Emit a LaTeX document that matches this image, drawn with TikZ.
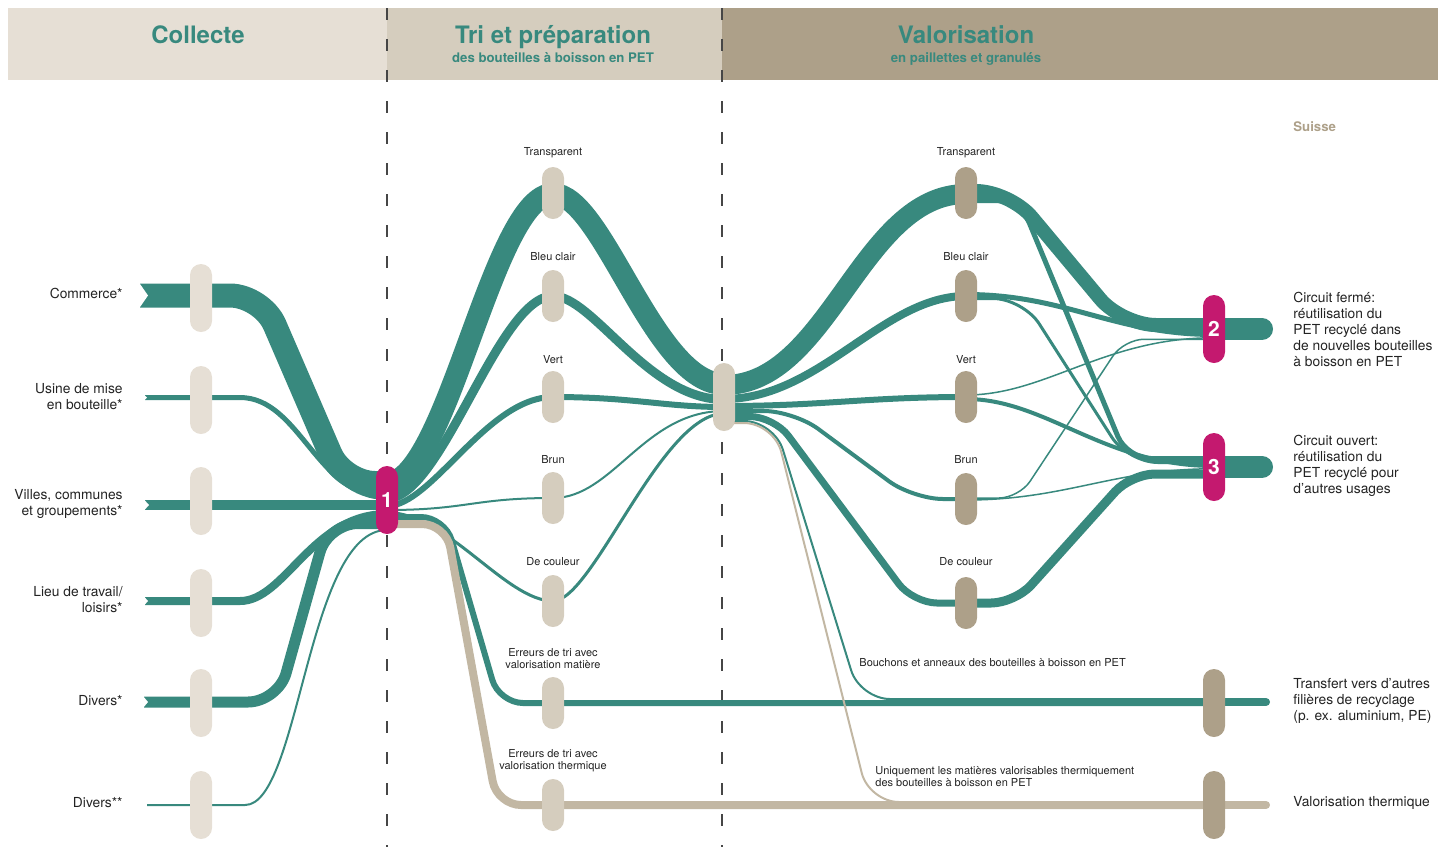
\documentclass[tikz,border=0pt]{standalone}
\usepackage{fontspec}
\setmainfont{TeX Gyre Heros}
\usetikzlibrary{calc, backgrounds}

\definecolor{pteal}{RGB}{56,137,126}
\definecolor{pmag}{RGB}{196,25,111}
\definecolor{hdA}{RGB}{230,223,213}
\definecolor{hdB}{RGB}{213,205,190}
\definecolor{hdC}{RGB}{173,160,137}
\definecolor{ptan}{RGB}{194,183,163}
\definecolor{ink}{RGB}{35,35,35}
\definecolor{dashgray}{RGB}{70,70,70}

\tikzset{
  flow/.style={draw=pteal, line width=#1*0.5pt},
  pill/.style={rectangle, rounded corners=5.5pt, minimum width=11pt, minimum height=26pt, inner sep=0pt},
  tall/.style={minimum height=34pt},
  num/.style={text=white, font=\bfseries\fontsize{10.5}{12}\selectfont},
  lab/.style={text=ink, font=\fontsize{6.9}{8}\selectfont, inner sep=0pt},
  tag/.style={text=ink, font=\fontsize{5.5}{6}\selectfont, inner sep=0pt, align=center},
  ttl/.style={text=pteal, font=\bfseries\fontsize{12}{14}\selectfont, inner sep=0pt, anchor=base},
  sub/.style={text=pteal, font=\bfseries\fontsize{6.6}{8}\selectfont, inner sep=0pt, anchor=base},
  dashline/.style={draw=dashgray, line width=0.6pt, dash pattern=on 6pt off 9.5pt},
}

\begin{document}
\begin{tikzpicture}[x=0.5pt, y=-0.5pt]
  \useasboundingbox (0,0) rectangle (1438,847);

  % pills
  \foreach \n/\y in {com/298, usi/400, vil/501, lie/603, div/703, dvv/805}
    \node[pill, tall, fill=hdA] (\n) at (201,\y) {};
  \foreach \n/\y in {tT/193, tB/296, tV/397, tN/498, tC/601, tM/703, tH/805}
    \node[pill, fill=hdB] (\n) at (553,\y) {};
  \foreach \n/\y in {vT/193, vB/296, vV/397, vN/499, vC/603}
    \node[pill, fill=hdC] (\n) at (966,\y) {};
  \node[pill, tall, fill=hdB] (hub) at (724,397) {};
  \node[pill, tall, fill=hdC] (tra) at (1214,703) {};
  \node[pill, tall, fill=hdC] (the) at (1214,805) {};
  \node[pill, tall, fill=pmag, num] (one) at (387,500) {1};
  \node[pill, tall, fill=pmag, num] (two) at (1214,329) {2};
  \node[pill, tall, fill=pmag, num] (three) at (1214,467) {3};

  \begin{pgfonlayer}{background}
    \fill[hdA] (8,8) rectangle (387,80);
    \fill[hdB] (387,8) rectangle (722,80);
    \fill[hdC] (722,8) rectangle (1438,80);
    \draw[dashline] (387,8) -- (387,847);
    \draw[dashline] (722,8) -- (722,847);

    % collecte
    \draw[flow=24, rounded corners=16pt] (com.center) ++(-61,-2.5) -- ++(122,0) -- ++(81,187.5) -- ($(one)+(0,-17)$);
    \draw[flow=5] (usi.center) ++(-56,-2.5) -- ++(95,0) .. controls +(60,0) and +(-70,0) .. ($(one)+(0,-2.5)$);
    \draw[flow=10] (vil.center) ++(-56,4) -- ($(one)+(0,5)$);
    \draw[flow=8] (lie.center) ++(-56,-2) -- ++(95,0) .. controls +(45,0) and +(-75,0) .. ($(one)+(0,14)$);
    \draw[flow=11, rounded corners=15pt] (div.center) ++(-57,-1) -- ++(134,0) -- ++(50,-178.5) -- ($(one)+(0,23.5)$);
    \draw[flow=2] (dvv.center) ++(-54,0) -- ++(98,0) .. controls +(55,0) and +(-80,0) .. ($(one)+(0,30)$);
    \foreach \x/\y/\h/\d in {140/295.5/13/8, 145/397.5/3/2, 145/505/5.5/4, 145/601/4.5/3, 144/702/6/4}
      \fill[white] (\x-1,\y-\h) -- (\x+\d,\y) -- (\x-1,\y+\h) -- cycle;

    % tri
    \draw[flow=22] ($(one)+(0,-17)$) .. controls +(60,0) and +(-60,0) .. ($(tT)+(0,1)$)
      .. controls +(50,0) and +(-70,0) .. ($(hub)+(0,-13)$);
    \draw[flow=9] ($(one)+(0,-1.5)$) .. controls +(55,0) and +(-55,0) .. (tB.center)
      .. controls +(40,0) and +(-76,0) .. ($(hub)+(0,2.5)$);
    \draw[flow=6] ($(one)+(0,6)$) .. controls +(45,0) and +(-66,0) .. (tV.center)
      .. controls +(80,0) and +(-60,0) .. ($(hub)+(0,10)$);
    \draw[flow=2] ($(one)+(0,10)$) .. controls +(80,0) and +(-80,0) .. (tN.center)
      .. controls +(60,0) and +(-80,0) .. ($(hub)+(0,14)$);
    \draw[flow=3] ($(one)+(0,12.5)$) .. controls +(60,0) and +(-47,0) .. (tC.center)
      .. controls +(40,0) and +(-63,0) .. ($(hub)+(0,16.5)$);
    \draw[flow=6, rounded corners=12pt] ($(one)+(0,17)$) -- ++(58,0) -- ++(54,186) -- (tra.center);
    \draw[flow=8, draw=ptan, rounded corners=12pt] ($(one)+(0,24)$) -- ++(59,0) -- ++(51,281) -- (the.center);

    % valorisation
    \draw[flow=20] ($(hub)+(0,-12)$) .. controls +(105,0) and +(-105,0) .. ($(vT)+(0,1)$);
    \draw[flow=8] ($(hub)+(0,2)$) .. controls +(96,0) and +(-83,0) .. (vB.center);
    \draw[flow=6] ($(hub)+(0,9)$) .. controls +(100,0) and +(-100,0) .. (vV.center);
    \draw[flow=4, rounded corners=15pt] ($(hub)+(0,14)$) -- ++(70,0) -- ++(119,88) -- (vN.center);
    \draw[flow=7, rounded corners=12pt] ($(hub)+(0,19.5)$) -- ++(50,0) -- ++(139,186.5) -- (vC.center);
    \draw[flow=2, rounded corners=15pt] ($(hub)+(0,24)$) -- ++(50,0) -- ++(86,278) -- ($(tra)+(0,-4)$);
    \draw[flow=2, draw=ptan, rounded corners=15pt] ($(hub)+(0,26)$) -- ++(50,0) -- ++(95,379) -- ($(the)+(0,-3)$);

    % circuits
    \draw[flow=14, rounded corners=17pt] ($(vT)+(0,-2)$) -- ++(44,0) -- ++(112,134) -- ($(two)+(0,-4)$);
    \draw[flow=5, rounded corners=12pt] ($(vT)+(0,7.5)$) -- ++(54,0) -- ++(107,258) -- ($(three)+(0,-8.5)$);
    \draw[flow=5] ($(vB)+(0,-1.5)$) .. controls +(100,0) and +(-100,0) .. ($(two)+(0,5.5)$);
    \draw[flow=3, rounded corners=15pt] ($(vB)+(0,2.5)$) -- ++(57,0) -- ++(105,164) -- ($(three)+(0,-4.5)$);
    \draw[flow=1.5] ($(vV)+(0,-2)$) .. controls +(80,0) and +(-110,0) .. ($(two)+(0,8.75)$);
    \draw[flow=4] ($(vV)+(0,2)$) .. controls +(80,0) and +(-110,0) .. ($(three)+(0,-1)$);
    \draw[flow=1.5, rounded corners=10pt] ($(vN)+(0,-1)$) -- ++(53,0) -- ++(105,-158.75) -- ($(two)+(0,10.25)$);
    \draw[flow=1.5] ($(vN)+(0,1)$) .. controls +(100,0) and +(-100,0) .. ($(three)+(0,1.75)$);
    \draw[flow=9, rounded corners=12pt] (vC.center) -- ++(49,0) -- ++(116,-129) -- ($(three)+(0,7)$);

    \draw[flow=22, line cap=round] (two.center) -- ++(48,0);
    \draw[flow=22, line cap=round] (three.center) -- ++(48,0);
    \draw[flow=8, line cap=round] (tra.center) ++(0,-1) -- ++(52,0);
    \draw[flow=8, draw=ptan, line cap=round] (the.center) -- ++(52,0);
  \end{pgfonlayer}

  % headings
  \node[ttl] (tcol) at (198,43) {Collecte};
  \node[ttl] (ttri) at (553,43) {Tri et préparation};
  \node[sub] (stri) at (553,62) {des bouteilles à boisson en PET};
  \node[ttl] (tval) at (966,43) {Valorisation};
  \node[sub] (sval) at (966,62) {en paillettes et granulés};
  \node[sub, text=hdC, anchor=west] (suisse) at (1293,127) {Suisse};

  % sources
  \node[lab, anchor=east, align=right] (lcom) at (123,293) {Commerce*};
  \node[lab, anchor=east, align=right] (lusi) at (123,397) {Usine de mise\\en bouteille*};
  \node[lab, anchor=east, align=right] (lvil) at (123,504) {Villes, communes\\et groupements*};
  \node[lab, anchor=east, align=right] (llie) at (123,600) {Lieu de travail/\\loisirs*};
  \node[lab, anchor=east, align=right] (ldiv) at (123,701) {Divers*};
  \node[lab, anchor=east, align=right] (ldvv) at (123,803) {Divers**};

  % sorting tags
  \foreach \t/\y in {Transparent/153, Bleu clair/257, Vert/360, Brun/460, De couleur/562} {
    \node[tag] at (553,\y) {\t};
    \node[tag] at (966,\y) {\t};
  }
  \node[tag] (lerm) at (553,659) {Erreurs de tri avec\\valorisation matière};
  \node[tag] (lert) at (553,761) {Erreurs de tri avec\\valorisation thermique};
  \node[tag, anchor=west] (lbou) at (859,663) {Bouchons et anneaux des bouteilles à boisson en PET};
  \node[tag, anchor=west, align=left] (luni) at (875,777) {Uniquement les matières valorisables thermiquement\\des bouteilles à boisson en PET};

  % outcomes
  \node[lab, anchor=west, align=left] (ltwo) at (1293,329) {Circuit fermé:\\réutilisation du\\PET recyclé dans\\de nouvelles bouteilles\\à boisson en PET};
  \node[lab, anchor=west, align=left] (lthree) at (1293,466) {Circuit ouvert:\\réutilisation du\\PET recyclé pour\\d’autres usages};
  \node[lab, anchor=west, align=left] (ltra) at (1293,701) {Transfert vers d’autres\\filières de recyclage\\(p. ex. aluminium, PE)};
  \node[lab, anchor=west, align=left] (lthe) at (1293,803) {Valorisation thermique};
\end{tikzpicture}
\end{document}
